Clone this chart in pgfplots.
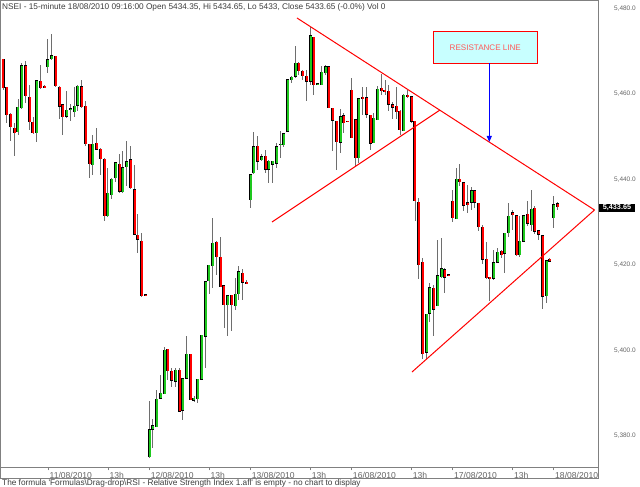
\documentclass[border=0pt]{standalone}
\usepackage{fontspec}
\setmainfont{Liberation Sans}
\usepackage{pgfplots}
\pgfplotsset{compat=1.18}
\usepackage{pgfplotstable}
\usetikzlibrary{arrows.meta}

\definecolor{upgreen}{RGB}{30,200,30}
\definecolor{dnred}{RGB}{255,0,0}
\definecolor{wick}{RGB}{110,110,110}
\definecolor{framegray}{RGB}{128,128,128}
\definecolor{txtgray}{RGB}{60,60,60}
\definecolor{labgray}{RGB}{100,100,100}
\definecolor{boxcyan}{RGB}{200,255,255}
\definecolor{restext}{RGB}{255,90,90}

% 15-minute bars, index = bar number; o h l c
\pgfplotstableread{
i o h l c
4 5451.1 5459.0 5450.6 5456.8
5 5456.8 5467.3 5456.5 5466.7
9 5451.0 5463.3 5448.8 5463.2
12 5466.5 5472.8 5465.0 5468.1
13 5468.2 5474.3 5468.0 5469.0
17 5454.8 5460.7 5454.4 5456.2
18 5456.3 5457.6 5453.7 5456.6
19 5455.9 5461.8 5454.8 5457.3
20 5457.4 5462.0 5456.0 5461.9
24 5443.6 5450.5 5441.2 5448.4
28 5431.5 5442.8 5431.3 5436.8
29 5436.5 5440.3 5435.4 5440.2
30 5440.5 5444.1 5439.6 5444.0
32 5437.1 5446.7 5437.0 5442.8
33 5443.0 5449.0 5438.5 5444.2
39 5375.2 5388.2 5375.0 5381.6
40 5381.6 5384.0 5377.4 5382.4
41 5382.3 5390.8 5382.2 5388.8
42 5388.9 5394.5 5388.8 5390.0
43 5390.0 5400.9 5390.0 5400.2
46 5392.9 5396.0 5391.5 5395.5
48 5386.1 5393.6 5383.8 5393.5
49 5393.5 5403.4 5393.3 5399.2
51 5388.5 5389.4 5387.9 5389.0
52 5388.8 5393.4 5387.7 5393.3
53 5393.3 5403.7 5393.2 5403.6
54 5403.3 5416.2 5396.0 5416.1
55 5416.3 5420.2 5413.4 5419.9
56 5419.9 5431.1 5414.7 5425.2
60 5410.8 5413.0 5403.6 5412.9
62 5410.6 5417.1 5409.5 5413.2
63 5413.2 5419.8 5411.9 5418.4
66 5435.4 5441.3 5433.4 5441.2
67 5441.6 5451.3 5441.5 5447.8
69 5444.6 5445.9 5444.3 5445.3
71 5442.4 5444.7 5439.3 5444.3
72 5443.6 5444.4 5439.3 5444.3
73 5443.9 5448.6 5442.8 5447.8
74 5448.2 5451.3 5445.1 5448.3
75 5448.2 5450.9 5447.8 5450.8
76 5451.3 5463.5 5451.2 5463.4
77 5463.4 5464.3 5462.6 5464.0
78 5464.2 5471.4 5463.8 5467.3
82 5463.0 5475.9 5462.2 5473.7
84 5462.3 5462.7 5462.2 5462.6
85 5462.2 5466.5 5462.2 5465.1
86 5465.1 5466.9 5464.6 5466.5
90 5448.8 5456.6 5446.3 5454.8
95 5445.1 5459.1 5444.0 5458.9
99 5448.6 5455.5 5448.5 5454.4
100 5454.1 5462.0 5454.0 5461.3
107 5451.6 5460.1 5451.5 5459.9
113 5399.6 5408.6 5398.0 5408.5
114 5408.7 5415.9 5406.6 5414.7
116 5410.6 5426.0 5410.5 5417.6
117 5417.3 5426.4 5417.0 5419.2
121 5430.9 5442.8 5430.8 5440.2
125 5434.6 5438.5 5433.0 5437.3
131 5416.9 5423.7 5416.7 5420.6
132 5420.7 5424.1 5420.6 5423.1
134 5422.8 5427.7 5418.2 5427.6
135 5427.6 5434.6 5426.7 5431.5
138 5422.5 5431.5 5422.0 5425.6
139 5425.6 5431.7 5425.3 5431.6
141 5429.5 5437.6 5428.0 5433.2
145 5412.8 5421.2 5411.2 5421.0
147 5431.1 5436.3 5428.8 5434.2
}\upbars

\pgfplotstableread{
i o h l c
0 5468.1 5468.3 5461.0 5461.5
1 5461.6 5461.8 5453.3 5455.2
2 5455.4 5455.6 5449.0 5452.3
3 5452.2 5453.3 5445.5 5451.1
6 5466.8 5467.7 5458.0 5459.7
7 5459.3 5462.2 5451.7 5453.5
8 5453.5 5454.8 5450.9 5451.0
10 5463.0 5466.9 5461.3 5461.5
11 5461.9 5462.1 5461.7 5461.8
14 5468.9 5469.0 5461.7 5461.9
15 5461.8 5462.0 5454.2 5457.3
16 5457.6 5457.7 5450.3 5454.8
21 5461.9 5463.4 5456.8 5457.2
22 5457.2 5458.3 5447.8 5448.4
23 5448.2 5448.4 5440.3 5443.6
25 5448.6 5452.1 5447.0 5447.1
26 5447.3 5447.4 5441.0 5445.0
27 5444.7 5445.1 5430.3 5431.5
31 5443.6 5446.0 5437.0 5437.2
34 5444.6 5448.0 5437.9 5438.0
35 5437.7 5443.4 5427.0 5427.2
36 5427.0 5431.9 5422.9 5426.0
37 5425.6 5427.6 5412.7 5412.8
38 5413.1 5413.2 5412.9 5413.0
44 5400.3 5400.4 5393.3 5395.3
45 5395.3 5396.0 5391.4 5393.1
47 5395.5 5396.0 5385.8 5385.9
50 5399.2 5399.3 5388.4 5388.5
57 5425.4 5425.6 5417.8 5422.0
58 5422.0 5426.6 5414.9 5415.0
59 5415.3 5415.4 5405.4 5410.8
61 5413.0 5413.1 5404.6 5410.8
64 5418.2 5419.2 5411.9 5416.1
65 5415.9 5416.7 5415.7 5415.8
68 5447.8 5450.2 5442.4 5444.3
70 5445.5 5447.0 5441.6 5442.4
79 5467.3 5467.5 5464.6 5465.4
80 5465.4 5465.7 5463.4 5464.4
81 5464.2 5465.7 5458.6 5463.0
83 5473.4 5473.5 5459.9 5462.2
87 5466.5 5466.6 5456.8 5456.9
88 5456.8 5456.9 5446.7 5453.9
89 5453.7 5453.8 5442.4 5448.8
91 5455.0 5455.6 5451.0 5453.3
92 5453.8 5453.9 5453.5 5453.6
93 5460.9 5463.8 5449.6 5449.8
94 5454.1 5454.2 5443.2 5445.1
96 5459.3 5461.8 5455.2 5459.0
97 5459.1 5461.8 5454.4 5455.2
98 5455.2 5455.3 5446.9 5448.6
101 5461.3 5464.8 5459.8 5460.7
102 5460.9 5463.4 5459.9 5460.5
103 5460.7 5462.0 5456.0 5457.6
104 5457.6 5458.1 5454.1 5457.0
105 5457.2 5461.8 5454.1 5456.0
106 5456.0 5456.4 5450.5 5451.6
108 5459.9 5461.1 5459.0 5459.5
109 5459.5 5459.6 5453.3 5453.7
110 5453.7 5453.8 5430.3 5435.0
111 5434.8 5435.8 5416.7 5420.2
112 5420.6 5421.7 5398.0 5399.2
115 5414.7 5415.5 5403.5 5409.7
118 5418.9 5419.5 5413.6 5417.1
119 5417.7 5417.8 5417.5 5417.6
120 5435.0 5437.6 5430.3 5431.1
122 5440.2 5443.6 5438.5 5439.5
123 5439.3 5439.4 5432.7 5434.0
124 5434.6 5438.9 5432.3 5434.0
126 5437.3 5437.7 5433.4 5434.6
127 5434.4 5434.5 5428.0 5429.0
128 5429.0 5429.3 5420.2 5421.4
129 5421.5 5425.3 5416.7 5417.1
130 5417.3 5417.4 5411.6 5416.9
133 5423.3 5423.5 5421.7 5422.5
136 5432.3 5433.0 5428.4 5431.8
137 5431.6 5431.7 5422.1 5422.5
140 5431.9 5435.0 5429.2 5429.8
142 5433.4 5433.7 5427.2 5428.0
143 5428.0 5428.1 5426.0 5427.2
144 5427.0 5427.1 5409.7 5412.8
146 5421.5 5421.7 5420.8 5421.0
148 5434.35 5434.65 5433.0 5433.65
}\downbars

\pgfplotsset{
  nomarks/.style={only marks, mark=*, mark size=0pt, mark options={draw=none, fill=none}},
  wicks/.style={nomarks,
    error bars/.cd, y dir=both, y explicit, error mark=none,
    error bar style={wick, line width=0.9bp}},
  bodyedge/.style={nomarks,
    error bars/.cd, y dir=both, y explicit, error mark=none,
    error bar style={black, line width=3bp}},
  bodyfill/.style={nomarks,
    error bars/.cd, y dir=both, y explicit, error mark=none,
    error bar style={#1, line width=2bp}},
}

\begin{document}
\begin{tikzpicture}
\path[use as bounding box] (0,0) rectangle (640bp,487bp);
\begin{axis}[
  scale only axis, width=597.8bp, height=467.2bp,
  at={(0.5bp,19.3bp)}, anchor=south west,
  xmin=-0.668, xmax=158.958, ymin=5372.585, ymax=5481.871,
  axis line style={framegray, line width=0.8bp},
  clip=true,
  xtick pos=bottom, ytick pos=right,
  tick align=outside, major tick length=2.6bp,
  xtick style={framegray, line width=0.6bp},
  ytick style={draw=none},
  xtick={12,28,39,55,66,82,93,109,120,136,147},
  xticklabels={11/08/2010,13h,12/08/2010,13h,13/08/2010,13h,16/08/2010,13h,17/08/2010,13h,18/08/2010},
  xticklabel style={anchor=north west, inner sep=0pt, xshift=1.5bp, yshift=-1.3bp,
    font=\fontsize{8.6}{10}\selectfont, text=labgray},
  ytick={5380,5400,5420,5440,5460,5480},
  yticklabels={{5,380.0},{5,400.0},{5,420.0},{5,440.0},{5,460.0},{5,480.0}},
  yticklabel pos=right,
  yticklabel style={anchor=west, inner sep=0pt, xshift=13bp,
    font=\fontsize{6.5}{8}\selectfont, text=labgray},
]
% wicks
\addplot[wicks] table[x=i, y expr={(\thisrow{h}+\thisrow{l})/2},
  y error expr={(\thisrow{h}-\thisrow{l})/2}] {\upbars};
\addplot[wicks] table[x=i, y expr={(\thisrow{h}+\thisrow{l})/2},
  y error expr={(\thisrow{h}-\thisrow{l})/2}] {\downbars};
% bodies: dark edge, then colour
\addplot[bodyedge] table[x=i, y expr={(\thisrow{o}+\thisrow{c})/2},
  y error expr={max(abs(\thisrow{c}-\thisrow{o})/2,0.12)+0.08}] {\upbars};
\addplot[bodyedge] table[x=i, y expr={(\thisrow{o}+\thisrow{c})/2},
  y error expr={max(abs(\thisrow{c}-\thisrow{o})/2,0.12)+0.08}] {\downbars};
\addplot[bodyfill=upgreen] table[x expr={\thisrow{i}+0.13}, y expr={(\thisrow{o}+\thisrow{c})/2},
  y error expr={max(abs(\thisrow{c}-\thisrow{o})/2,0.12)}] {\upbars};
\addplot[bodyfill=dnred] table[x expr={\thisrow{i}+0.13}, y expr={(\thisrow{o}+\thisrow{c})/2},
  y error expr={max(abs(\thisrow{c}-\thisrow{o})/2,0.12)}] {\downbars};
% trend lines
\addplot[red, line width=1bp] coordinates {(78.5,5477.78) (157.94,5432.87)};
\addplot[red, line width=1bp] coordinates {(71.83,5430.06) (116.69,5456.26)};
\addplot[red, line width=1bp] coordinates {(109.21,5394.97) (157.94,5432.87)};
\end{axis}

% annotations in pixel units, origin top left
\begin{scope}[x=1bp, y=-1bp, shift={(0bp,487bp)}]
\draw[framegray, line width=0.8bp] (0.5,467.7) -- (0.5,478.3) -- (598.3,478.3) -- (598.3,467.7);
\node[anchor=base west, inner sep=0pt, font=\fontsize{8.3}{10}\selectfont, text=txtgray]
  at (2,9.3) {NSEI - 15-minute 18/08/2010 09:16:00 Open 5434.35, Hi 5434.65, Lo 5433, Close 5433.65 (-0.0\%) Vol 0};
\node[anchor=base west, inner sep=0pt, font=\fontsize{8.3}{10}\selectfont, text=txtgray]
  at (2,485.3) {The formula \textquotesingle Formulas\textbackslash Drag-drop\textbackslash RSI - Relative Strength Index 1.afl\textquotesingle{} is empty - no chart to display};
\draw[red, line width=0.8bp, fill=boxcyan] (433.3,31.7) rectangle (537.3,63.3);
\node[text=restext, font=\fontsize{8.1}{10}\selectfont, inner sep=0pt] at (485.3,47.8) {RESISTANCE LINE};
\draw[blue, line width=1bp, -{Triangle[length=6bp,width=5bp]}] (489.3,63.3) -- (489.3,142);
\fill[black] (599.3,203.8) rectangle (634.5,211.7);
\node[text=white, font=\bfseries\fontsize{7.3}{8}\selectfont, inner sep=0pt] at (617,207.8) {5,433.65};
\end{scope}
\end{tikzpicture}
\end{document}
